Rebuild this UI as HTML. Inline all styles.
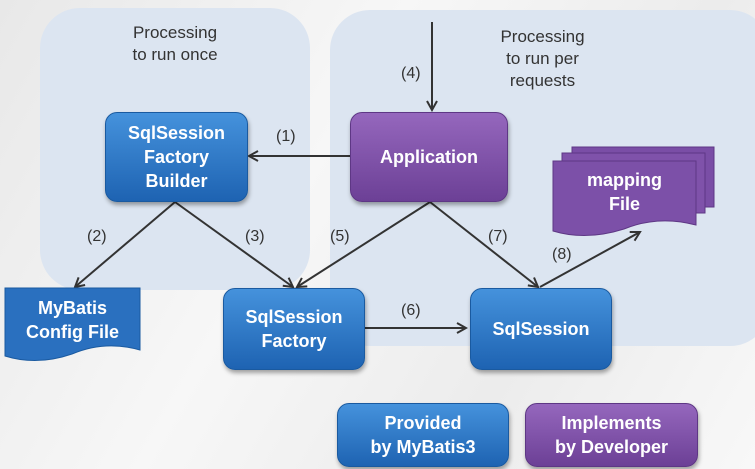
<!DOCTYPE html>
<html><head><style>
body{margin:0;width:755px;height:469px;overflow:hidden;background:linear-gradient(120deg,#e8e8e8 0%,#f7f7f7 40%,#ececec 70%,#f8f8f8 100%);font-family:"Liberation Sans","NanumGothic",sans-serif;position:relative}
.p{position:absolute;background:#dce5f1;border-radius:40px}
.t{position:absolute;color:#333;font-size:17px;text-align:center;line-height:22px}
.b{position:absolute;color:#fff;font-weight:bold;font-size:18px;display:flex;align-items:center;justify-content:center;text-align:center;line-height:24px;border-radius:12px}
.bl{background:linear-gradient(#4592dc,#1e63b2);border:1px solid #1a5aa0;box-shadow:1px 3px 4px rgba(0,0,0,.35)}
.pu{background:linear-gradient(#9567bd,#6c4096);border:1px solid #5e3785;box-shadow:1px 3px 4px rgba(0,0,0,.35)}
.l{position:absolute;font-size:16px;color:#333}
</style></head><body>
<div class="p" style="left:40px;top:8px;width:270px;height:282px"></div>
<div class="p" style="left:330px;top:10px;width:440px;height:336px"></div>
<div class="t" style="left:100px;top:22px;width:150px">Processing<br>to run once</div>
<div class="t" style="left:470px;top:26px;width:145px">Processing<br>to run per<br>requests</div>
<svg width="755" height="469" style="position:absolute;left:0;top:0">
<defs><marker id="a" markerWidth="12" markerHeight="12" refX="10" refY="6" orient="auto" markerUnits="userSpaceOnUse"><path d="M1,1 L10,6 L1,11" fill="none" stroke="#333" stroke-width="2"/></marker></defs>
<g stroke="#333" stroke-width="2" fill="none">
<line x1="350" y1="156" x2="249" y2="156" marker-end="url(#a)"/>
<line x1="432" y1="22" x2="432" y2="110" marker-end="url(#a)"/>
<line x1="175" y1="202" x2="75" y2="287" marker-end="url(#a)"/>
<line x1="175" y1="202" x2="293" y2="287" marker-end="url(#a)"/>
<line x1="430" y1="202" x2="297" y2="287" marker-end="url(#a)"/>
<line x1="430" y1="202" x2="538" y2="287" marker-end="url(#a)"/>
<line x1="540" y1="287" x2="640" y2="232" marker-end="url(#a)"/>
<line x1="365" y1="328" x2="466" y2="328" marker-end="url(#a)"/>
</g>
<g stroke="#5e3785">
<path d="M572,147 h142 v60 h-142z" fill="#7a4ea6"/>
<path d="M562,153 h143 v60 h-143z" fill="#7f52aa"/>
<path d="M553,161 h143 v64 q-38,-10 -72,4 q-38,12 -71,2z" fill="#7c50a8"/>
</g>
<path d="M5,288 h135 v62 q-35,-10 -68,4 q-35,12 -67,2z" fill="#2a70bf" stroke="#1a5aa0"/>
</svg>
<div class="b bl" style="left:105px;top:112px;width:141px;height:88px">SqlSession<br>Factory<br>Builder</div>
<div class="b pu" style="left:350px;top:112px;width:156px;height:88px">Application</div>
<div class="b" style="left:553px;top:164px;width:143px;height:56px">mapping<br>File</div>
<div class="b" style="left:5px;top:290px;width:135px;height:60px">MyBatis<br>Config File</div>
<div class="b bl" style="left:223px;top:288px;width:140px;height:80px">SqlSession<br>Factory</div>
<div class="b bl" style="left:470px;top:288px;width:140px;height:80px">SqlSession</div>
<div class="b bl" style="left:337px;top:403px;width:170px;height:62px">Provided<br>by MyBatis3</div>
<div class="b pu" style="left:525px;top:403px;width:171px;height:62px">Implements<br>by Developer</div>
<div class="l" style="left:276px;top:128px">(1)</div>
<div class="l" style="left:401px;top:65px">(4)</div>
<div class="l" style="left:87px;top:228px">(2)</div>
<div class="l" style="left:245px;top:228px">(3)</div>
<div class="l" style="left:330px;top:228px">(5)</div>
<div class="l" style="left:488px;top:228px">(7)</div>
<div class="l" style="left:552px;top:246px">(8)</div>
<div class="l" style="left:401px;top:302px">(6)</div>
</body></html>
